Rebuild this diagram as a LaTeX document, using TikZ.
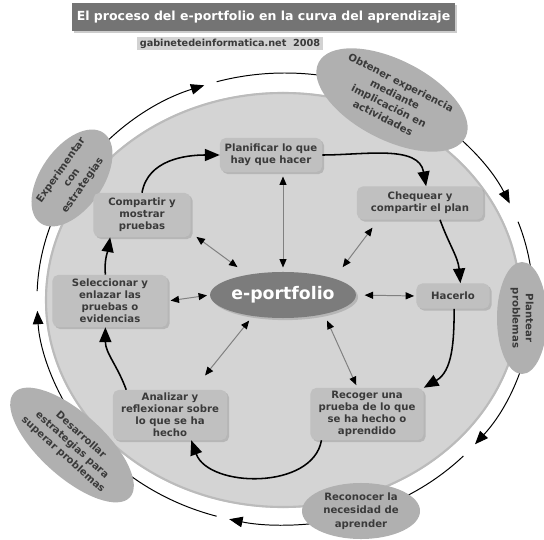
\documentclass[tikz,border=0pt]{standalone}
\usepackage{fontspec}
\setmainfont{DejaVu Sans}
\usetikzlibrary{arrows.meta}
\usetikzlibrary{shapes.geometric}
\usetikzlibrary{shadows}
\definecolor{discgray}{HTML}{D4D4D4}
\definecolor{rimgray}{HTML}{BBBBBB}
\definecolor{boxgray}{HTML}{C0C0C0}
\definecolor{ringgray}{HTML}{B0B0B0}
\definecolor{hubgray}{HTML}{7C7C7C}
\definecolor{titlegray}{HTML}{747474}
\definecolor{inkgray}{HTML}{3A3A3A}
\tikzset{
  stagebox/.style={rectangle, rounded corners=4pt, fill=boxgray, text=inkgray,
    font=\fontsize{7.2}{8.6}\selectfont\bfseries, align=center, inner sep=0pt,
    drop shadow={shadow xshift=1.5pt, shadow yshift=-1.5pt, opacity=0.35}},
  ringell/.style={ellipse, fill=ringgray, text=inkgray, inner sep=0pt,
    font=\fontsize{7.2}{9.4}\selectfont\bfseries, align=center},
  hubell/.style={ellipse, fill=hubgray, text=white, inner sep=0pt,
    font=\fontsize{12.3}{14}\selectfont\bfseries,
    drop shadow={shadow xshift=1.5pt, shadow yshift=-1.5pt, opacity=0.35}},
  cyclearrow/.style={-{Triangle[length=10.5pt,width=8.5pt]}, line width=1.1pt},
  linkarrow/.style={{Triangle[length=6pt,width=5pt,color=black]}-{Triangle[length=6pt,width=5pt,color=black]},
    draw=gray, line width=0.7pt},
  ringarrow/.style={-{Triangle[length=9.5pt,width=7.5pt]}, line width=0.7pt},
  ringline/.style={line width=0.7pt}
}

\begin{document}
\begin{tikzpicture}[x=0.025cm, y=0.025cm]
	\useasboundingbox (0,0) rectangle (544,539);

	% fondo
	\fill[discgray] (283,239) ellipse[x radius=238, y radius=208];
	\draw[rimgray, line width=1.5pt] (283,239) ellipse[x radius=237, y radius=207];

	\node[fill=titlegray, text=white, font=\fontsize{8.9}{10}\selectfont\bfseries,
		minimum width=9.575cm, minimum height=0.7cm,
		drop shadow={shadow xshift=1.5pt, shadow yshift=-1.5pt, opacity=0.4}]
		(title) at (263.5,522) {El proceso del e-portfolio en la curva del aprendizaje};
	\node[fill=gray!35, text=inkgray, font=\fontsize{6.9}{8}\selectfont\bfseries,
		minimum width=4.65cm, minimum height=0.325cm, inner sep=0pt]
		(web) at (230,495.5) {gabinetedeinformatica.net\ \ 2008};

	% curva exterior
	\coordinate (ctr) at (285,240);
	\foreach \a/\b in {150/109, 55/25, -5/-40, -80/-103, 210/183}
		\draw[ringarrow] (ctr) ++(\a:248 and 226) arc[start angle=\a, end angle=\b, x radius=248, y radius=226];
	\foreach \a/\b in {106/70, 20/0, -44/-70, -106/-135, 178/160}
		\draw[ringline] (ctr) ++(\a:248 and 226) arc[start angle=\a, end angle=\b, x radius=248, y radius=226];

	\node[ringell, minimum width=4.1cm, minimum height=2cm, rotate=-27] (obtener) at (392,439)
		{Obtener experiencia\\mediante\\implicación en\\actividades};
	\node[ringell, minimum width=2.8cm, minimum height=1.25cm, rotate=-90] (plantear) at (522,221)
		{Plantear\\problemas};
	\node[ringell, minimum width=2.95cm, minimum height=1.4cm] (reconocer) at (361,28)
		{Reconocer la\\necesidad de\\aprender};
	\node[ringell, minimum width=3.9cm, minimum height=1.6cm, rotate=-42] (desarrollar) at (72,94)
		{Desarrollar\\estrategias para\\superar problemas};
	\node[ringell, minimum width=2.75cm, minimum height=1.55cm, rotate=55] (experimentar) at (72,361)
		{Experimentar\\con\\estrategias};

	% ciclo interior
	\node[stagebox, minimum width=2.55cm, minimum height=0.85cm] (plan) at (271,384)
		{Planificar lo que\\hay que hacer};
	\node[stagebox, minimum width=3.15cm, minimum height=0.825cm] (cheq) at (420,336)
		{Chequear y\\compartir el plan};
	\node[stagebox, minimum width=1.825cm, minimum height=0.625cm] (hacer) at (453,243)
		{Hacerlo};
	\node[stagebox, minimum width=2.825cm, minimum height=1.3cm] (recog) at (367,125)
		{Recoger una\\prueba de lo que\\se ha hecho o\\aprendido};
	\node[stagebox, minimum width=2.85cm, minimum height=1.25cm] (anal) at (170,124)
		{Analizar y\\reflexionar sobre\\lo que se ha\\hecho};
	\node[stagebox, minimum width=2.875cm, minimum height=1.3cm] (selec) at (110,238)
		{Seleccionar y\\enlazar las\\pruebas o\\evidencias};
	\node[stagebox, minimum width=2.425cm, minimum height=1.1cm] (comp) at (142,324)
		{Compartir y\\mostrar\\pruebas};

	\node[hubell, minimum width=3.5cm, minimum height=1.15cm] (port) at (283,244) {e-portfolio};

	\draw[cyclearrow] (plan.east) to[out=0,in=100] (cheq.70);
	\draw[cyclearrow] (cheq.-40) to[out=-70,in=95] (hacer.60);
	\draw[cyclearrow] (hacer.-85) to[out=-90,in=30] (recog.north east);
	\draw[cyclearrow] (recog.-150) to[out=-100,in=-70] (anal.-50);
	\draw[cyclearrow] (anal.150) to[out=110,in=-90] (selec.-100);
	\draw[cyclearrow] (selec.100) to[out=95,in=-100] (comp.-145);
	\draw[cyclearrow] (comp.north) to[out=80,in=180] (plan.west);

	\draw[linkarrow, shorten <=3pt, shorten >=3pt] (port.north) -- (port.north |- plan.south);
	\draw[linkarrow, shorten <=10pt, shorten >=7pt] (port.18) -- (cheq.-158);
	\draw[linkarrow, shorten <=6pt, shorten >=1.5pt] (port.east) -- (hacer.west);
	\draw[linkarrow, shorten <=5pt, shorten >=2pt] (port.-25) -- (recog.110);
	\draw[linkarrow, shorten <=4pt, shorten >=13pt] (port.-145) -- (anal.47);
	\draw[linkarrow, shorten <=2pt, shorten >=2pt] (port.west) -- (selec.east);
	\draw[linkarrow, shorten <=9pt, shorten >=5pt] (port.150) -- (comp.-20);
\end{tikzpicture}
\end{document}
